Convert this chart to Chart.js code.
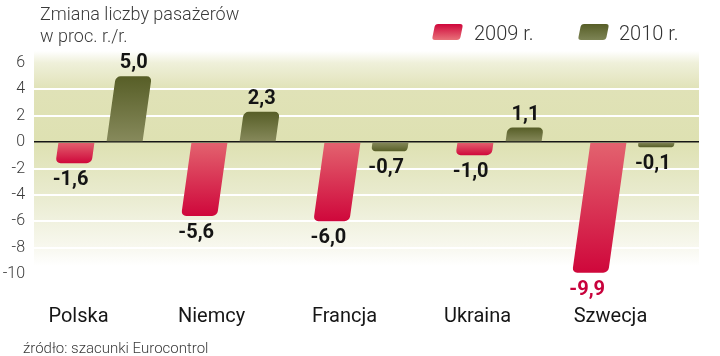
<!DOCTYPE html>
<html>
<head>
<meta charset="utf-8">
<script src="https://cdn.jsdelivr.net/npm/chart.js@4/dist/chart.umd.min.js"></script>
<style>
  html, body { margin: 0; padding: 0; background: #fff; }
  #wrap { width: 720px; height: 356px; }
</style>
</head>
<body>
<div id="wrap"><canvas id="c" width="720" height="356"></canvas></div>
<script>
// ---- data ----
const categories = ['Polska', 'Niemcy', 'Francja', 'Ukraina', 'Szwecja'];
const values2009 = [-1.6, -5.6, -6.0, -1.0, -9.9];
const values2010 = [5.0, 2.3, -0.7, 1.1, -0.1];
const seriesNames = ['2009 r.', '2010 r.'];
const yTicks = [-10, -8, -6, -4, -2, 0, 2, 4, 6];
const titleLines = ['Zmiana liczby pasażerów', 'w proc. r./r.'];
const sourceText = 'źródło: szacunki Eurocontrol';

// ---- style ----
const K = 0.14; // bar slant
const RED_BASE = '#e3636f', RED_TIP = '#cf073b';
const GRN_BASE = '#878a5c', GRN_TIP = '#575e27';
const FONT = 'Roboto, "Liberation Sans", sans-serif';

function barGradient(base, tip) {
  return function (c) {
    const chart = c.chart;
    const ys = chart.scales && chart.scales.y;
    if (!ys || c.type !== 'data') return tip;
    const y0 = ys.getPixelForValue(0);
    let y1 = ys.getPixelForValue(c.raw);
    if (!isFinite(y0) || !isFinite(y1)) return tip;
    const d = y1 - y0;
    const s = d >= 0 ? 1 : -1;
    y1 = y0 + s * Math.max(Math.abs(d), 5);
    const g = chart.ctx.createLinearGradient(0, y0, 0, y1);
    g.addColorStop(0, base);
    g.addColorStop(1, tip);
    return g;
  };
}

const bgPlugin = {
  id: 'bg',
  beforeDraw(chart) {
    const { ctx, chartArea: a } = chart;
    ctx.save();
    ctx.fillStyle = '#fff';
    ctx.fillRect(0, 0, chart.width, chart.height);
    const top = a.top - 12, bot = a.bottom - 8;
    const g = ctx.createLinearGradient(0, top, 0, bot);
    const f = y => Math.min(1, Math.max(0, (y - top) / (bot - top)));
    const ys = chart.scales.y;
    g.addColorStop(0, '#ffffff');
    g.addColorStop(f(ys.getPixelForValue(6)), '#eff0da');
    g.addColorStop(f(ys.getPixelForValue(4)), '#e0e2b7');
    g.addColorStop(f(ys.getPixelForValue(0)), '#dee1b2');
    g.addColorStop(f(ys.getPixelForValue(-4)), '#e9ebcf');
    g.addColorStop(f(ys.getPixelForValue(-8)), '#f8f8ef');
    g.addColorStop(1, '#ffffff');
    ctx.fillStyle = g;
    ctx.fillRect(a.left, top, a.right - a.left, bot - top);
    ctx.restore();
  }
};

const skewPlugin = {
  id: 'skew',
  beforeDatasetDraw(chart) {
    const y0 = chart.scales.y.getPixelForValue(0);
    chart.ctx.save();
    chart.ctx.transform(1, 0, -K, 1, K * y0, 0);
  },
  afterDatasetDraw(chart) {
    chart.ctx.restore();
  }
};

function swatch(ctx, cx, cy, top, bottom) {
  ctx.save();
  ctx.translate(cx, cy);
  ctx.transform(1, 0, -0.2, 1, 0, 0);
  const g = ctx.createLinearGradient(0, -8, 0, 8);
  g.addColorStop(0, top);
  g.addColorStop(1, bottom);
  ctx.fillStyle = g;
  ctx.beginPath();
  ctx.roundRect(-14, -8, 28, 16, 3);
  ctx.fill();
  ctx.restore();
}

const textPlugin = {
  id: 'texts',
  afterDraw(chart) {
    const ctx = chart.ctx;
    const ys = chart.scales.y;
    const y0 = ys.getPixelForValue(0);
    ctx.save();
    // value labels
    ctx.font = 'bold 20px ' + FONT;
    ctx.textAlign = 'center';
    ctx.textBaseline = 'middle';
    chart.data.datasets.forEach((ds, di) => {
      const meta = chart.getDatasetMeta(di);
      meta.data.forEach((el, i) => {
        const v = ds.data[i];
        const txt = v.toFixed(1).replace('.', ',');
        let x = el.x + K * (y0 - el.y);
        let y;
        if (v >= 0) { y = el.y - 13; } else { y = el.y + 17; x -= 3; }
        ctx.fillStyle = (v <= -9) ? '#c8023c' : '#141414';
        ctx.fillText(txt, x, y);
      });
    });
    // title
    ctx.textAlign = 'left';
    ctx.textBaseline = 'alphabetic';
    ctx.fillStyle = '#3a3a3a';
    ctx.font = '300 18px ' + FONT;
    ctx.fillText(titleLines[0], 40, 20);
    ctx.fillText(titleLines[1], 40, 42);
    // legend
    swatch(ctx, 447.5, 32, RED_TIP, '#e8727a');
    swatch(ctx, 593.5, 32, GRN_TIP, '#7d8455');
    ctx.font = '300 20px ' + FONT;
    ctx.fillStyle = '#333';
    ctx.fillText(seriesNames[0], 474, 40);
    ctx.fillText(seriesNames[1], 619, 40);
    // source
    ctx.font = '300 15px ' + FONT;
    ctx.fillStyle = '#3a3a3a';
    ctx.fillText(sourceText, 23, 353);
    ctx.restore();
  }
};

const chart = new Chart(document.getElementById('c'), {
  type: 'bar',
  data: {
    labels: categories,
    datasets: [
      {
        label: seriesNames[0],
        data: values2009,
        backgroundColor: barGradient(RED_BASE, RED_TIP),
        borderRadius: 5,
        borderSkipped: 'start',
        minBarLength: 5,
        categoryPercentage: 0.722,
        barPercentage: 0.75
      },
      {
        label: seriesNames[1],
        data: values2010,
        backgroundColor: barGradient(GRN_BASE, GRN_TIP),
        borderRadius: 5,
        borderSkipped: 'start',
        minBarLength: 5,
        categoryPercentage: 0.722,
        barPercentage: 0.75
      }
    ]
  },
  options: {
    responsive: false,
    animation: false,
    layout: { padding: { top: 63, right: 21, left: 0, bottom: 0 } },
    plugins: {
      legend: { display: false },
      tooltip: { enabled: false },
      title: { display: false }
    },
    scales: {
      x: {
        grid: { display: false, drawTicks: false },
        border: { display: false },
        ticks: {
          padding: 31,
          labelOffset: -22,
          color: '#161616',
          font: { family: FONT, size: 20, weight: '400' }
        },
        afterFit(s) { s.height = 82; }
      },
      y: {
        min: -10,
        max: 6,
        z: 1,
        afterBuildTicks(s) { s.ticks = yTicks.map(v => ({ value: v })); },
        afterFit(s) { s.width = 34; },
        border: { display: false },
        grid: {
          drawTicks: false,
          color: c => (c.tick && c.tick.value === 0) ? '#161616'
            : (c.tick && (c.tick.value === 6 || c.tick.value === -10)) ? 'rgba(0,0,0,0)' : '#ffffff',
          lineWidth: c => (c.tick && c.tick.value === 0) ? 1.6 : 2
        },
        ticks: {
          padding: 9,
          color: '#3a3a3a',
          font: { family: FONT, size: 16, weight: '300' },
          callback: v => String(v)
        }
      }
    }
  },
  plugins: [bgPlugin, skewPlugin, textPlugin]
});
chart.update();
</script>
</body>
</html>
